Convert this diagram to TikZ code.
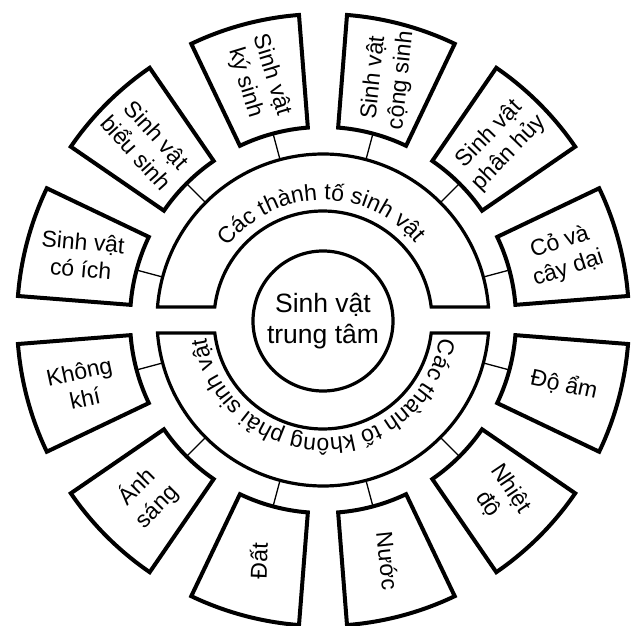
\documentclass[tikz,border=0pt]{standalone}
\usepackage{fontspec}
\setmainfont{Liberation Sans}
\usetikzlibrary{decorations.text}
\begin{document}
\begin{tikzpicture}[x=1pt,y=1pt,
  boxline/.style={line width=4pt, line join=miter},
  ringline/.style={line width=3.2pt},
  link/.style={line width=1.3pt},
  boxtext/.style={font=\fontsize{23}{27.5}\selectfont, align=center, inner sep=0pt},
  hubtext/.style={circle, draw, line width=3.2pt, minimum size=140pt, align=center, inner sep=0pt,
    font=\fontsize{26.5}{31}\selectfont},
]
\useasboundingbox (-323,-306) rectangle (314,320);
\def\ri{109pt}
\def\ro{166pt}
\def\bi{193pt}
\def\bo{306pt}
\def\hw{10.5}
\pgfmathsetmacro{\ao}{asin(13/166)}
\pgfmathsetmacro{\ai}{asin(13/109)}

% centre
\node[hubtext] (hub) at (0,-1) {Sinh vật\\trung tâm};

% upper half ring
\draw[ringline] (\ao:\ro) arc[start angle=\ao, end angle=180-\ao, radius=\ro]
  -- (180-\ai:\ri) arc[start angle=180-\ai, end angle=\ai, radius=\ri] -- cycle;
% lower half ring
\draw[ringline] (-\ao:\ro) arc[start angle=-\ao, end angle=-180+\ao, radius=\ro]
  -- (-180+\ai:\ri) arc[start angle=-180+\ai, end angle=-\ai, radius=\ri] -- cycle;

% ring texts
\begin{scope}
\fontsize{23}{27}\selectfont
\path[decorate, decoration={text along path,
  text={Các thành tố sinh vật},
  text align=center}]
  (143:120pt) arc[start angle=143, end angle=39, radius=120pt];
\path[decorate, decoration={text along path,
  text={Các thành tố không phải sinh vật},
  text align=center}]
  (-9:118pt) arc[start angle=-9, end angle=-171, radius=118pt];
\end{scope}

% boxes
\foreach \a/\rot/\txt/\nm in {
  15/18/{Cỏ và\\cây dại}/co,
  45/46/{Sinh vật\\phân hủy}/phanhuy,
  75/84/{Sinh vật\\cộng sinh}/congsinh,
  105/-73/{Sinh vật\\ký sinh}/kysinh,
  135/-48/{Sinh vật\\biểu sinh}/bieusinh,
  165/-5/{Sinh vật\\có ích}/coich,
  195/12/{Không\\khí}/khongkhi,
  225/45/{Ánh\\sáng}/anhsang,
  255/88/{Đất}/dat,
  285/-84/{Nước}/nuoc,
  315/-56/{Nhiệt\\độ}/nhietdo,
  345/-12/{Độ ẩm}/doam}{
  \draw[boxline] (\a-\hw:\bi) arc[start angle=\a-\hw, end angle=\a+\hw, radius=\bi]
    -- (\a+\hw:\bo) arc[start angle=\a+\hw, end angle=\a-\hw, radius=\bo] -- cycle;
  \node[boxtext, rotate=\rot] (\nm) at (\a:249.5pt) {\txt};
  \coordinate (\nm-in) at (\a:\ro);
  \coordinate (\nm-out) at (\a:\bi);
  \draw[link] (\nm-in) -- (\nm-out);
}
\end{tikzpicture}
\end{document}
